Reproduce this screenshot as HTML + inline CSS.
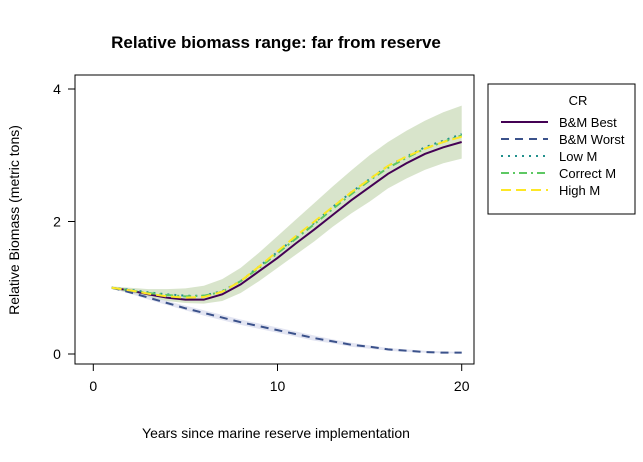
<!DOCTYPE html>
<html><head><meta charset="utf-8"><style>body{margin:0;background:#fff}svg{display:block;font-family:"Liberation Sans",Arial,sans-serif}</style></head>
<body>
<svg id="c" width="643" height="462">
<text x="276" y="48" text-anchor="middle" font-weight="bold" font-size="17">Relative biomass range: far from reserve</text>
<rect x="75" y="75" width="399" height="289" fill="none" stroke="#000"/>
<g id="plot"></g>
<g id="axes"></g>
<text x="276" y="438" text-anchor="middle" font-size="14">Years since marine reserve implementation</text>
<text transform="translate(19,220) rotate(-90)" text-anchor="middle" font-size="14">Relative Biomass (metric tons)</text>
<g>
<rect x="488" y="84" width="147" height="130" fill="#fff" stroke="#000"/>
<text x="578" y="105" text-anchor="middle" font-size="13">CR</text>
<g id="leg"></g>
</g>
</svg>
<script>
const years=[1,2,3,4,5,6,7,8,9,10,11,12,13,14,15,16,17,18,19,20];
const best=[1.0,0.96,0.9,0.85,0.82,0.82,0.9,1.05,1.25,1.45,1.67,1.88,2.1,2.32,2.52,2.72,2.88,3.02,3.12,3.2];
const worst=[1.0,0.93,0.85,0.77,0.69,0.62,0.55,0.48,0.42,0.36,0.3,0.24,0.19,0.14,0.11,0.07,0.05,0.03,0.02,0.02];
const lowM=[1.0,0.97,0.93,0.9,0.88,0.88,0.95,1.1,1.32,1.54,1.76,1.98,2.22,2.44,2.64,2.84,2.98,3.12,3.22,3.32];
const correctM=[1.0,0.96,0.92,0.89,0.87,0.88,0.94,1.1,1.3,1.52,1.74,1.96,2.19,2.41,2.62,2.81,2.96,3.1,3.2,3.3];
const highM=[1.0,0.96,0.91,0.87,0.85,0.86,0.94,1.1,1.32,1.55,1.78,2.0,2.22,2.44,2.64,2.84,2.98,3.1,3.2,3.28];
const bandHi=[1.02,1.0,0.98,0.98,0.99,1.03,1.13,1.3,1.53,1.78,2.03,2.28,2.53,2.77,3.0,3.2,3.37,3.52,3.65,3.75];
const bandLo=[0.98,0.92,0.86,0.8,0.77,0.76,0.8,0.92,1.1,1.3,1.5,1.7,1.92,2.12,2.3,2.5,2.65,2.78,2.88,2.95];
const worstHi=[1.0,0.95,0.88,0.8,0.73,0.66,0.59,0.52,0.46,0.4,0.34,0.28,0.22,0.17,0.13,0.09,0.07,0.05,0.04,0.03];
const worstLo=[1.0,0.91,0.82,0.74,0.66,0.58,0.51,0.44,0.38,0.32,0.26,0.2,0.16,0.11,0.08,0.05,0.03,0.02,0.01,0.01];
const xTicks=[0,10,20], yTicks=[0,2,4];
const X=v=>93.3+v*18.42, Y=v=>354-v*66.25;
const NS="http://www.w3.org/2000/svg";
function mk(t,a,p){const e=document.createElementNS(NS,t);for(const k in a)e.setAttribute(k,a[k]);p.appendChild(e);return e;}
const plot=document.getElementById('plot'),axes=document.getElementById('axes'),leg=document.getElementById('leg');
const pts=s=>years.map((y,i)=>X(y)+','+Y(s[i])).join(' ');
const band=(hi,lo)=>years.map((y,i)=>X(y)+','+Y(hi[i])).concat(years.slice().reverse().map((y,j)=>X(y)+','+Y(lo[19-j]))).join(' ');
let b=mk('polygon',{points:band(bandHi,bandLo),fill:'#8fb36a','fill-opacity':0.35},plot);


let w=mk('polygon',{points:band(worstHi,worstLo),fill:'#c8cce6','fill-opacity':0.5},plot);


const series=[['bm-best',best,'#440154','',''],['bm-worst',worst,'#3b528b','8 6',''],['low-m',lowM,'#21908c','2 5',''],['correct-m',correctM,'#5dc863','8 4 2 4',''],['high-m',highM,'#fde725','10 5','']];
const names=['B&M Best','B&M Worst','Low M','Correct M','High M'];
series.forEach((s,i)=>{
 let l=mk('polyline',{points:pts(s[1]),fill:'none',stroke:s[2],'stroke-width':2,'stroke-dasharray':s[3]},plot);
 
 
 const y=122+i*17;
 let ll=mk('line',{x1:501,x2:548,y1:y,y2:y,stroke:s[2],'stroke-width':2,'stroke-dasharray':s[3]},leg);
 
 
 let t=mk('text',{x:559,y:y+5,'font-size':13},leg);t.textContent=names[i];
 
 
});
xTicks.forEach(v=>{mk('line',{x1:X(v),x2:X(v),y1:364,y2:371,stroke:'#000'},axes);
 let t=mk('text',{x:X(v),y:391,'text-anchor':'middle','font-size':14},axes);t.textContent=v;
 
 });
yTicks.forEach(v=>{mk('line',{x1:68,x2:75,y1:Y(v),y2:Y(v),stroke:'#000'},axes);
 let t=mk('text',{x:57,y:Y(v)+5,'text-anchor':'middle','font-size':14},axes);t.textContent=v;
 
 });
</script>
</body></html>
